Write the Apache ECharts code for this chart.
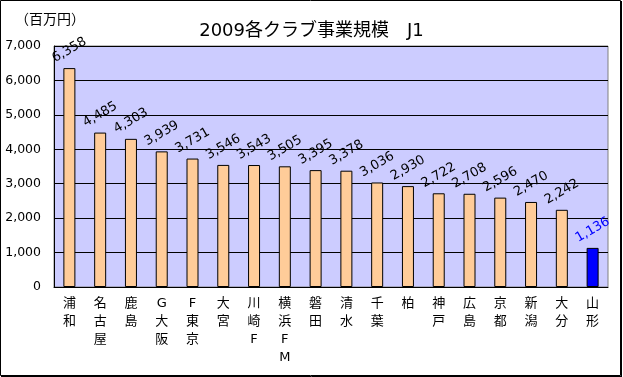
<!DOCTYPE html>
<html>
  <head>
    <meta charset="utf-8" />
    <title>2009各クラブ事業規模 J1</title>
    <script src="https://cdn.jsdelivr.net/npm/echarts@6/dist/echarts.min.js"></script>
    <style>
      body {
        margin: 0;
        background: #fff;
      }
      #main {
        width: 623px;
        height: 377px;
      }
    </style>
  </head>
  <body>
    <div id="main"></div>
    <script type="text/javascript">
      // データ（百万円）
      var clubs = ["浦和", "名古屋", "鹿島", "G大阪", "F東京", "大宮", "川崎F", "横浜FM", "磐田",
        "清水", "千葉", "柏", "神戸", "広島", "京都", "新潟", "大分", "山形"];
      var revenue = [6358, 4485, 4303, 3939, 3731, 3546, 3543, 3505, 3395,
        3378, 3036, 2930, 2722, 2708, 2596, 2470, 2242, 1136];
      var yTicks = [0, 1000, 2000, 3000, 4000, 5000, 6000, 7000];
      var highlight = "山形";

      // 数字はDejaVu、漢字はNoto CJKにフォールバック
      var font = "'DejaVu Sans', 'Noto Sans CJK JP', sans-serif";
      var myChart = echarts.init(document.getElementById("main"));

      function fmt(v) {
        return String(v).replace(/\B(?=(\d{3})+(?!\d))/g, ",");
      }

      var barData = revenue.map(function (v, i) {
        var hl = clubs[i] === highlight;
        return {
          value: v,
          itemStyle: { color: hl ? "#0000FF" : "#FFCC99" },
          label: { color: hl ? "#0000FF" : "#000" },
        };
      });

      var option = {
        animation: false,
        textStyle: { fontFamily: font },
        title: [
          {
            text: "2009各クラブ事業規模　J1",
            left: "center",
            top: 17,
            textStyle: { fontSize: 18, fontWeight: "normal", color: "#000", fontFamily: font },
          },
          {
            text: "（百万円）",
            left: 10,
            top: 8,
            textStyle: { fontSize: 14, fontWeight: "normal", color: "#000", fontFamily: font },
          },
        ],
        graphic: [
          { type: "rect", shape: { x: 0.5, y: 0.5, width: 620, height: 375 }, style: { fill: null, stroke: "#000", lineWidth: 1 } },
          { type: "line", shape: { x1: 621.5, y1: 1, x2: 621.5, y2: 377 }, style: { stroke: "#000", lineWidth: 1 } },
          { type: "line", shape: { x1: 1, y1: 376.5, x2: 622, y2: 376.5 }, style: { stroke: "#000", lineWidth: 1 } },
        ],
        grid: {
          left: 54,
          right: 15,
          top: 46,
          bottom: 90,
          show: true,
          backgroundColor: "#CCCCFF",
          borderColor: "#808080",
          borderWidth: 1,
          outerBoundsMode: "none",
        },
        xAxis: {
          type: "category",
          data: clubs,
          axisLine: { lineStyle: { color: "#000", width: 1 } },
          axisTick: { inside: true, length: 3, lineStyle: { color: "#000" } },
          axisLabel: {
            interval: 0,
            margin: 8,
            fontSize: 13,
            lineHeight: 18,
            color: "#000",
            verticalAlign: "top",
            formatter: function (v) {
              return v.split("").join("\n");
            },
          },
        },
        yAxis: {
          type: "value",
          min: yTicks[0],
          max: yTicks[yTicks.length - 1],
          interval: yTicks[1] - yTicks[0],
          axisLine: { show: true, lineStyle: { color: "#000", width: 1 } },
          axisTick: { show: false },
          splitLine: { lineStyle: { color: "#000", width: 1 } },
          axisLabel: { fontSize: 12.5, color: "#000", margin: 13, formatter: fmt },
        },
        series: [
          {
            type: "bar",
            data: barData,
            barWidth: 12,
            itemStyle: { borderColor: "#000", borderWidth: 1 },
            label: {
              show: true,
              position: "top",
              distance: 18,
              rotate: 30,
              align: "center",
              verticalAlign: "middle",
              fontSize: 13,
              formatter: function (p) {
                return fmt(p.value);
              },
            },
          },
        ],
      };

      myChart.setOption(option);
    </script>
  </body>
</html>
